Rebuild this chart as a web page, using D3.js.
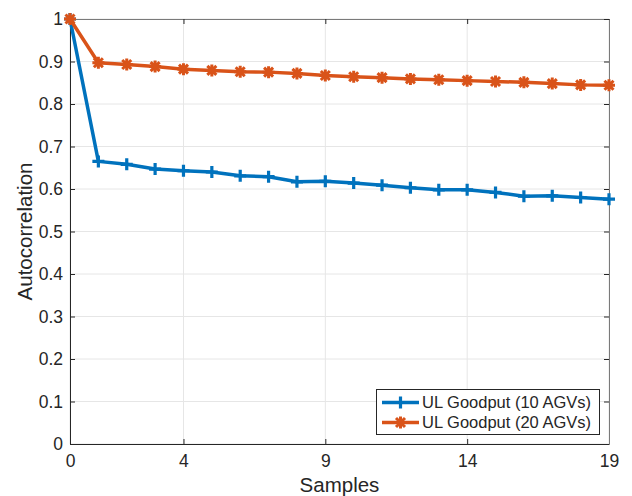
<!DOCTYPE html>
<html><head><meta charset="utf-8">
<script src="https://cdn.jsdelivr.net/npm/d3@7"></script>
<style>body{margin:0;background:#fff}svg{display:block}text{font-family:"Liberation Sans",Arial,sans-serif}</style>
</head><body>
<svg id="c" width="632" height="496"></svg>
<script>
const samples = d3.range(0, 20);
const ul10 = [1.0,0.665,0.658,0.647,0.643,0.640,0.631,0.629,0.617,0.618,0.614,0.609,0.603,0.598,0.598,0.592,0.583,0.584,0.580,0.576];
const ul20 = [1.0,0.897,0.893,0.888,0.882,0.879,0.876,0.875,0.872,0.867,0.864,0.862,0.859,0.857,0.855,0.853,0.851,0.848,0.845,0.844];
const xTicks = [0,4,9,14,19];
const yTicks = [0,0.1,0.2,0.3,0.4,0.5,0.6,0.7,0.8,0.9,1];
const seriesNames = ["UL Goodput (10 AGVs)","UL Goodput (20 AGVs)"];
const colors = ["#0072BD","#D95319"];

const svg = d3.select("#c");
const L=70,R=609,T=19,B=444;
const x = d3.scaleLinear().domain([0,19]).range([L,R]);
const y = d3.scaleLinear().domain([0,1]).range([B,T]);
const axc="#262626";

// grid
const g = svg.append("g");
g.selectAll(".gx").data(xTicks).enter().append("line")
 .attr("x1",d=>x(d)).attr("x2",d=>x(d)).attr("y1",T).attr("y2",B)
 .attr("stroke","#e6e6e6").attr("stroke-width",1);
g.selectAll(".gy").data(yTicks).enter().append("line")
 .attr("y1",d=>y(d)).attr("y2",d=>y(d)).attr("x1",L).attr("x2",R)
 .attr("stroke","#e6e6e6").attr("stroke-width",1);

// axes
const fmt = d=> d===0?"0":(d===1?"1":d3.format(".1f")(d));
const ax = svg.append("g").attr("transform",`translate(0,${B})`)
 .call(d3.axisBottom(x).tickValues(xTicks).tickSize(-5).tickPadding(8).tickSizeOuter(0));
const ay = svg.append("g").attr("transform",`translate(${L},0)`)
 .call(d3.axisLeft(y).tickValues(yTicks).tickFormat(fmt).tickSize(-5).tickPadding(7).tickSizeOuter(0));
const axT = svg.append("g").attr("transform",`translate(0,${T})`)
 .call(d3.axisTop(x).tickValues(xTicks).tickSize(-5).tickFormat("").tickSizeOuter(0));
const ayR = svg.append("g").attr("transform",`translate(${R},0)`)
 .call(d3.axisRight(y).tickValues(yTicks).tickSize(-5).tickFormat("").tickSizeOuter(0));
[ax,ay,axT,ayR].forEach(a=>{
  a.selectAll("path,line").attr("stroke",axc).attr("stroke-width",1);
  a.selectAll("text").attr("fill","#262626").style("font-size","17.5px");
});
axT.select(".domain").attr("stroke","#7a7a7a");
ayR.select(".domain").attr("stroke","#7a7a7a");
ax.selectAll("text").attr("dy","0.85em");

// labels
svg.append("text").attr("x",(L+R)/2).attr("y",492).attr("text-anchor","middle")
 .style("font-size","20.5px").attr("fill","#262626").text("Samples");
svg.append("text").attr("transform",`translate(32,${(T+B)/2}) rotate(-90)`).attr("text-anchor","middle")
 .style("font-size","20.5px").attr("fill","#262626").text("Autocorrelation");

// series
const line = d3.line().x((d,i)=>x(samples[i])).y(d=>y(d));
const plus = (sel,c)=>{ sel.append("path").attr("d","M-6,0H6M0,-6V6").attr("stroke",c).attr("stroke-width",3.2).attr("fill","none"); };
const star = (sel,c)=>{ sel.append("path").attr("d","M-6,0H6M0,-6V6M-4.5,-4.5L4.5,4.5M-4.5,4.5L4.5,-4.5").attr("stroke",c).attr("stroke-width",3).attr("fill","none"); };
[[ul10,plus],[ul20,star]].forEach(([data,mk],k)=>{
  svg.append("path").datum(data).attr("d",line).attr("fill","none")
   .attr("stroke",colors[k]).attr("stroke-width",3.5).attr("stroke-linejoin","round");
  svg.append("g").selectAll("g").data(data).enter().append("g")
   .attr("transform",(d,i)=>`translate(${x(samples[i])},${y(d)})`)
   .each(function(){ mk(d3.select(this),colors[k]); });
});

// legend
const lg = svg.append("g");
lg.append("rect").attr("x",376.5).attr("y",389.5).attr("width",223).attr("height",45)
 .attr("fill","#fff").attr("stroke","#262626").attr("stroke-width",1);
const mks=[plus,star];
seriesNames.forEach((n,i)=>{
  const yy = 402.5 + i*20;
  lg.append("line").attr("x1",382).attr("x2",419).attr("y1",yy).attr("y2",yy).attr("stroke",colors[i]).attr("stroke-width",3.5);
  const m = lg.append("g").attr("transform",`translate(400.5,${yy})`);
  mks[i](m,colors[i]);
  lg.append("text").attr("x",422).attr("y",yy).attr("dy","0.35em").style("font-size","16.5px").attr("fill","#262626").text(n);
});
</script>
</body></html>
